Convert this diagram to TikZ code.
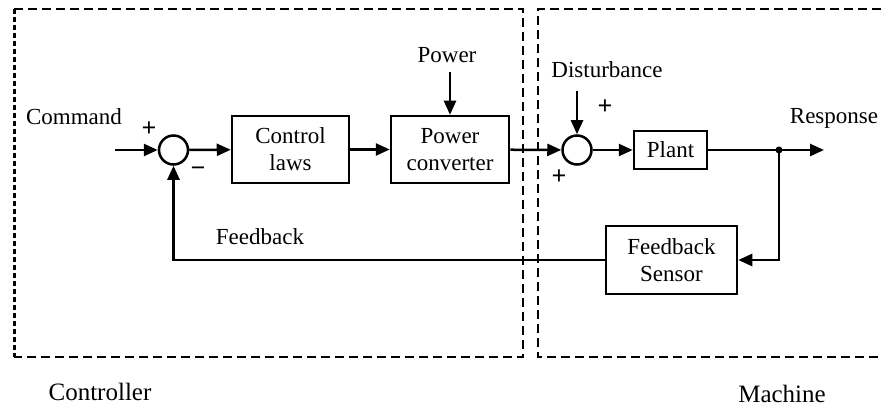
\documentclass[tikz,border=0pt]{standalone}
\usepackage{fontspec}
\setmainfont{Liberation Serif}
\usetikzlibrary{arrows.meta}
\begin{document}
\begin{tikzpicture}[x=1pt,y=-1pt,
 blk/.style={draw,line width=2.5pt,inner sep=0pt,align=center,font=\fontsize{23}{27}\selectfont},
 sumj/.style={draw,circle,line width=2.5pt,minimum size=29pt,inner sep=0pt},
 lbl/.style={font=\fontsize{23}{27}\selectfont,inner sep=0pt},
 big/.style={font=\fontsize{25}{30}\selectfont,inner sep=0pt},
 sgn/.style={font=\fontsize{26}{28}\selectfont\bfseries,inner sep=0pt},
 sig/.style={line width=2.5pt,-{Triangle[length=14pt,width=12pt]}},
 region/.style={line width=2.5pt,dash pattern=on 9pt off 5pt}]
\useasboundingbox (0,0) rectangle (881,409);
\fill[white] (0,0) rectangle (881,409);
% regions
\draw[region] (14,9) -- (523,9) -- (523,357) -- (14,357);
\draw[line width=3pt,dash pattern=on 5pt off 3pt] (14,9) -- (14,357);
\draw[region] (881,9) -- (538,9) -- (538,357) -- (881,357);
% blocks
\node[sumj] (s1) at (173.5,150) {};
\node[blk,minimum width=117pt,minimum height=67pt] (cl) at (290.5,149.5) {Control\\laws};
\node[blk,minimum width=118pt,minimum height=67pt] (pc) at (450,149.5) {Power\\converter};
\node[sumj] (s2) at (577,150) {};
\node[blk,minimum width=73pt,minimum height=38pt] (plant) at (670.5,150) {Plant};
\node[blk,minimum width=131pt,minimum height=68pt] (fb) at (671.5,260) {Feedback\\Sensor};
% labels
\node[lbl] (tcmd) at (74,117) {Command};
\node[lbl] (tpow) at (447,55) {Power};
\node[lbl] (tdist) at (607,70) {Disturbance};
\node[lbl] (tresp) at (834,118) {Response};
\node[lbl] (tfb) at (260,237) {Feedback};
\node[big] (tctrl) at (100,392) {Controller};
\node[big] (tmach) at (782,394) {Machine};
\node[sgn] (p1) at (149,129) {+};
\node[sgn] (m1) at (198,172) {−};
\node[sgn] (p2) at (605,107) {+};
\node[sgn] (p3) at (559,177) {+};
% coordinates
\coordinate (cmd) at (115,150);
\coordinate (pw) at (450,72);
\coordinate (dist) at (577,91);
\coordinate (j) at (779,150);
\coordinate (out) at (824,150);
% connectors
\draw[sig] (cmd) -- (s1);
\draw[sig] (s1) -- (cl);
\draw[sig] (cl) -- (pc);
\draw[sig] (pw) -- (pc);
\draw[sig] (pc) -- (s2);
\draw[sig] (dist) -- (s2);
\draw[sig] (s2) -- (plant);
\draw[sig] (plant) -- (out);
\fill (j) circle (3.5pt);
\draw[sig] (j) |- (fb.east);
\draw[sig] (fb.west) -| (s1.south);
\end{tikzpicture}
\end{document}
